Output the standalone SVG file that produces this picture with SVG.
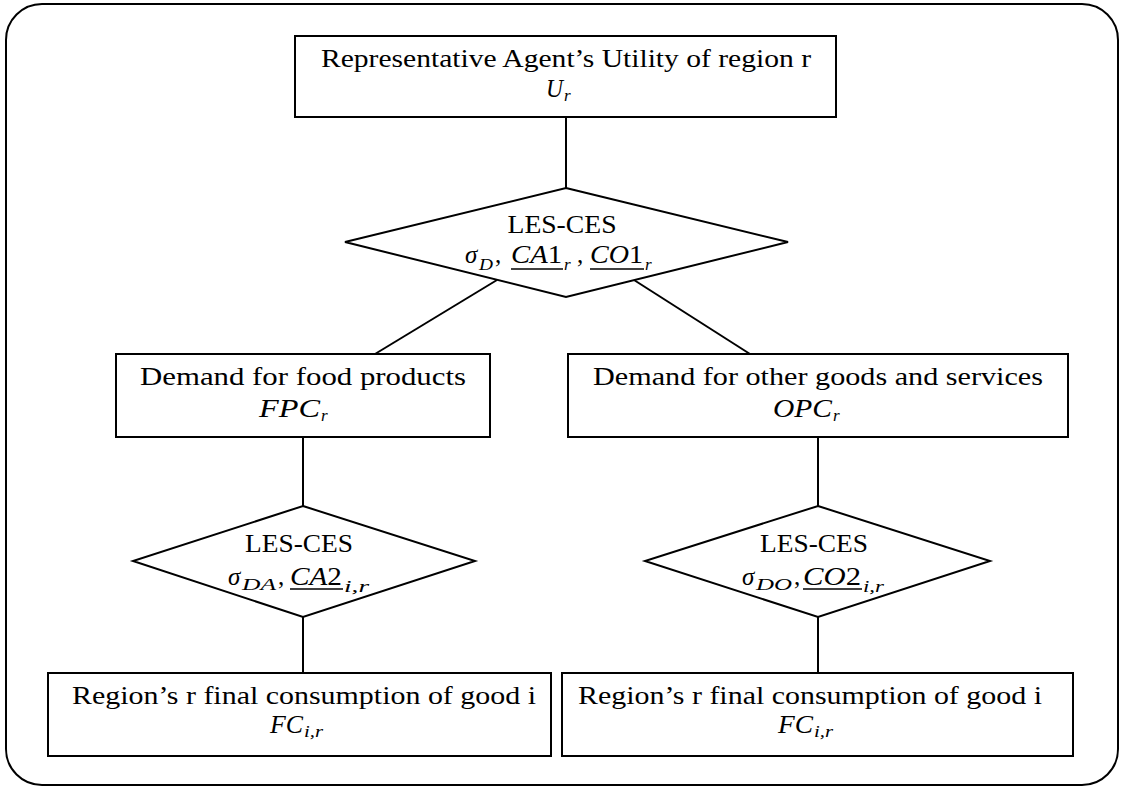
<svg xmlns="http://www.w3.org/2000/svg" width="1124" height="789" viewBox="0 0 1124 789">
<style>
.frame{fill:#fff;stroke:#000;stroke-width:2}
.box{fill:#fff;stroke:#000;stroke-width:2}
.t{font-family:"Liberation Serif","DejaVu Serif",serif;font-size:25px;fill:#000}
.m{font-style:italic}
.s{font-size:17px}
.ul{stroke:#000;stroke-width:1.6}
.c{stroke:#000;stroke-width:2;fill:none}
</style>
<rect class="frame" x="6" y="4" width="1112" height="781" rx="36" ry="36"/>
<g id="connectors">
<line class="c" x1="566" y1="117" x2="566" y2="188"/>
<line class="c" x1="497" y1="280" x2="375" y2="354"/>
<line class="c" x1="634" y1="280" x2="750" y2="354"/>
<line class="c" x1="303" y1="437" x2="303" y2="506"/>
<line class="c" x1="818" y1="437" x2="818" y2="506"/>
<line class="c" x1="303" y1="617" x2="303" y2="673"/>
<line class="c" x1="818" y1="617" x2="818" y2="673"/>
</g>
<g id="utility">
<rect class="box" x="295" y="36" width="541" height="81"/>
<text class="t" x="566" y="67" text-anchor="middle" textLength="490" lengthAdjust="spacingAndGlyphs">Representative Agent’s Utility of region r</text>
<text class="t m" x="546" y="97" textLength="17" lengthAdjust="spacingAndGlyphs">U</text>
<text class="t m s" x="564" y="101">r</text>
</g>
<g id="les-ces-top">
<polygon class="box" points="566,188 788,242 566,297 345,242"/>
<text class="t" x="562" y="233" text-anchor="middle" textLength="109" lengthAdjust="spacingAndGlyphs">LES-CES</text>
<text class="t m" x="465" y="263">σ</text>
<text class="t m s" x="479" y="270" textLength="14" lengthAdjust="spacingAndGlyphs">D</text>
<text class="t" x="495" y="263">,</text>
<text class="t" x="511" y="263" textLength="51" lengthAdjust="spacingAndGlyphs"><tspan class="m">CA</tspan>1</text>
<text class="t m s" x="564" y="270">r</text>
<text class="t" x="577" y="263">,</text>
<text class="t" x="590" y="263" textLength="53" lengthAdjust="spacingAndGlyphs"><tspan class="m">CO</tspan>1</text>
<text class="t m s" x="645" y="270">r</text>
<line class="ul" x1="511" y1="269" x2="563" y2="269"/>
<line class="ul" x1="590" y1="269" x2="644" y2="269"/>
</g>
<g id="food-demand">
<rect class="box" x="116" y="354" width="374" height="83"/>
<text class="t" x="303" y="385" text-anchor="middle" textLength="326" lengthAdjust="spacingAndGlyphs">Demand for food products</text>
<text class="t m" x="259" y="417" textLength="61" lengthAdjust="spacingAndGlyphs">FPC</text>
<text class="t m s" x="321" y="421">r</text>
</g>
<g id="other-demand">
<rect class="box" x="568" y="354" width="500" height="83"/>
<text class="t" x="818" y="385" text-anchor="middle" textLength="450" lengthAdjust="spacingAndGlyphs">Demand for other goods and services</text>
<text class="t m" x="773" y="417" textLength="59" lengthAdjust="spacingAndGlyphs">OPC</text>
<text class="t m s" x="833" y="421">r</text>
</g>
<g id="les-ces-food">
<polygon class="box" points="303,506 475,561 303,617 133,561"/>
<text class="t" x="299" y="552" text-anchor="middle" textLength="108" lengthAdjust="spacingAndGlyphs">LES-CES</text>
<text class="t m" x="228" y="585">σ</text>
<text class="t m s" x="242" y="590" textLength="34" lengthAdjust="spacingAndGlyphs">DA</text>
<text class="t" x="278" y="585">,</text>
<text class="t" x="290" y="585" textLength="52" lengthAdjust="spacingAndGlyphs"><tspan class="m">CA</tspan>2</text>
<text class="t m s" x="344" y="592" textLength="25" lengthAdjust="spacingAndGlyphs">i,r</text>
<line class="ul" x1="290" y1="589" x2="343" y2="589"/>
</g>
<g id="les-ces-other">
<polygon class="box" points="818,506 990,561 818,617 645,561"/>
<text class="t" x="814" y="552" text-anchor="middle" textLength="108" lengthAdjust="spacingAndGlyphs">LES-CES</text>
<text class="t m" x="742" y="585">σ</text>
<text class="t m s" x="756" y="590" textLength="36" lengthAdjust="spacingAndGlyphs">DO</text>
<text class="t" x="794" y="585">,</text>
<text class="t" x="803" y="585" textLength="58" lengthAdjust="spacingAndGlyphs"><tspan class="m">CO</tspan>2</text>
<text class="t m s" x="863" y="592" textLength="21" lengthAdjust="spacingAndGlyphs">i,r</text>
<line class="ul" x1="803" y1="589" x2="862" y2="589"/>
</g>
<g id="consumption-food">
<rect class="box" x="48" y="673" width="503" height="83"/>
<text class="t" x="304" y="704" text-anchor="middle" textLength="464" lengthAdjust="spacingAndGlyphs">Region’s r final consumption of good i</text>
<text class="t m" x="270" y="733" textLength="33" lengthAdjust="spacingAndGlyphs">FC</text>
<text class="t m s" x="304" y="737" textLength="19" lengthAdjust="spacingAndGlyphs">i,r</text>
</g>
<g id="consumption-other">
<rect class="box" x="562" y="673" width="511" height="83"/>
<text class="t" x="810" y="704" text-anchor="middle" textLength="464" lengthAdjust="spacingAndGlyphs">Region’s r final consumption of good i</text>
<text class="t m" x="778" y="733" textLength="35" lengthAdjust="spacingAndGlyphs">FC</text>
<text class="t m s" x="814" y="737" textLength="19" lengthAdjust="spacingAndGlyphs">i,r</text>
</g>
</svg>
